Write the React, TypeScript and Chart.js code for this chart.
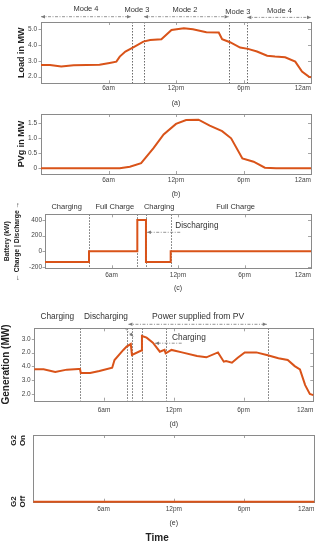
import React, { useEffect, useRef } from "react";
import { Chart, registerables } from "chart.js";

Chart.register(...registerables);

const FONT = '"Liberation Sans", Arial, Helvetica, sans-serif';
const LINE_COLOR = "#D95319";
Chart.defaults.font.family = FONT;
Chart.defaults.color = "#333";

// shared time axis (hours of the day)
const xTickValues = [0, 6, 12, 18, 24];
const xTickLabels = ["", "6am", "12pm", "6pm", "12am"];

// (a) load
const loadHours = [0, 0.8, 1.8, 2.9, 5.2, 6.1, 6.7, 7.0, 7.5, 8.2, 9.1, 9.7, 10.7, 11.6, 12.7, 13.5, 14.7, 15.8, 16.1, 16.8, 17.7, 18.4, 19.2, 20.1, 20.8, 21.7, 22.6, 23.2, 23.8, 24];
const loadMW = [2.74, 2.74, 2.64, 2.72, 2.76, 2.87, 2.95, 3.27, 3.59, 3.86, 4.22, 4.32, 4.37, 4.96, 5.06, 5.0, 4.81, 4.79, 4.37, 4.18, 3.84, 3.76, 3.59, 3.33, 3.27, 3.23, 2.95, 2.32, 2.0, 1.96];
const loadTickValues = [2, 3, 4, 5];
const loadTickLabels = ["2.0", "3.0", "4.0", "5.0"];
const modeBoundaries = [8.12, 9.16, 16.68, 18.34];

// (b) PV generation
const pvHours = [0, 7.0, 7.9, 8.9, 10.0, 10.9, 12.0, 12.9, 14.0, 15.0, 16.1, 16.9, 17.9, 18.9, 19.9, 20.9, 24];
const pvMW = [0, 0, 0.05, 0.17, 0.67, 1.13, 1.48, 1.61, 1.62, 1.42, 1.24, 1.0, 0.33, 0.22, 0.02, 0, 0];
const pvTickValues = [0, 0.5, 1, 1.5];
const pvTickLabels = ["0", "0.5", "1.0", "1.5"];

// (c) battery
const batteryHours = [0, 3.97, 8.33, 9.11, 11.34, 24];
const batteryKW = [-140, 0, 400, -140, 0, 0];
const batteryTickValues = [-200, 0, 200, 400];
const batteryTickLabels = ["-200", "0", "200", "400"];
const batteryEvents = [3.97, 8.33, 9.11, 11.34];

// (d) generation
const genHours = [0, 0.8, 1.8, 2.8, 3.8, 3.93, 4.0, 4.8, 5.6, 6.7, 6.9, 7.66, 7.94, 8.3, 8.4, 9.2, 9.26, 9.66, 10.2, 10.8, 11.2, 11.3, 11.8, 12.7, 14.0, 14.8, 15.8, 16.3, 16.5, 17.0, 17.5, 18.1, 19.1, 20.0, 21.0, 21.8, 22.4, 22.85, 23.3, 23.7, 24];
const genValues = [3.78, 3.78, 3.59, 3.76, 3.8, 3.8, 3.51, 3.51, 3.66, 3.9, 4.46, 5.2, 5.44, 5.63, 4.83, 5.15, 6.22, 6.1, 5.73, 5.07, 5.2, 4.95, 5.2, 5.02, 4.76, 4.66, 5.02, 4.34, 4.39, 4.27, 4.63, 5.02, 5.02, 4.83, 4.59, 4.46, 4.02, 3.78, 2.63, 1.98, 1.9];
const genTickValues = [2, 3, 4, 5, 6];
const genTickLabels = ["2.0", "3.0", "4.0", "2.0", "3.0"];
const genEvents = [3.93, 7.95, 8.38, 9.24, 11.33, 20.13];

// (e) G2 status
const g2Hours = [0, 24];
const g2State = [0, 0];
const g2TickValues = [0, 1];
const g2TickLabels = [["G2", "Off"], ["G2", "On"]];

type TextAnn = { x: number; y?: number; dy?: number; text: string; size: number };
type ArrowAnn = { x1: number; x2: number; y1?: number; dy1?: number; y2?: number; dy2?: number; heads: "both" | "end" };
type YLabel = { value: number; lines: string[]; align: CanvasTextAlign };

type PanelSpec = {
  top: number; height: number;
  padTop: number; padRight: number; yWidth: number; xHeight: number;
  xTickPad: number; caption: string; captionPad: number;
  hours: number[]; values: number[]; stepped?: boolean;
  yMin: number; yMax: number; yTickValues: number[]; yTickLabels: string[] | null;
  yTickPad: number;
  yTitle: string | string[] | null; yTitleSize: number; yTitlePad: number; yTitleLH?: number;
  vlines: number[]; texts: TextAnn[]; arrows: ArrowAnn[];
  customY?: { labels: YLabel[] };
  bottomTitle?: string;
};

const panels: PanelSpec[] = [
  {
    top: 0, height: 108, padTop: 22, padRight: 13, yWidth: 41, xHeight: 24.7,
    xTickPad: 1.1, caption: "(a)", captionPad: 0.8,
    hours: loadHours, values: loadMW,
    yMin: 1.58, yMax: 5.46, yTickValues: loadTickValues, yTickLabels: loadTickLabels, yTickPad: 4,
    yTitle: "Load in MW", yTitleSize: 9, yTitlePad: 16.3,
    vlines: modeBoundaries,
    texts: [
      { x: 4.0, dy: -12.7, text: "Mode 4", size: 7.5 },
      { x: 8.53, dy: -12, text: "Mode 3", size: 7.5 },
      { x: 12.8, dy: -11.7, text: "Mode 2", size: 7.5 },
      { x: 17.5, dy: -10, text: "Mode 3", size: 7.5 },
      { x: 21.2, dy: -10.7, text: "Mode 4", size: 7.5 },
    ],
    arrows: [
      { x1: 0, x2: 8.0, dy1: -5.3, dy2: -5.3, heads: "both" },
      { x1: 9.16, x2: 16.68, dy1: -5.3, dy2: -5.3, heads: "both" },
      { x1: 18.34, x2: 24, dy1: -4.6, dy2: -4.6, heads: "both" },
    ],
  },
  {
    top: 104, height: 96, padTop: 10, padRight: 13, yWidth: 41, xHeight: 26,
    xTickPad: 2.8, caption: "(b)", captionPad: 1.8,
    hours: pvHours, values: pvMW,
    yMin: -0.19, yMax: 1.81, yTickValues: pvTickValues, yTickLabels: pvTickLabels, yTickPad: 4,
    yTitle: "PVg in MW", yTitleSize: 9, yTitlePad: 16.3,
    vlines: [], texts: [], arrows: [],
  },
  {
    top: 200, height: 96, padTop: 14.3, padRight: 13, yWidth: 45, xHeight: 27.7,
    xTickPad: 2.6, caption: "(c)", captionPad: 3.8,
    hours: batteryHours, values: batteryKW, stepped: true,
    yMin: -220, yMax: 473, yTickValues: batteryTickValues, yTickLabels: batteryTickLabels, yTickPad: 3,
    yTitle: ["Battery (kW)", "\u2190 Charge | Discharge \u2192"], yTitleSize: 6.8, yTitlePad: 2.4, yTitleLH: 1.4,
    vlines: batteryEvents,
    texts: [
      { x: 1.95, dy: -7, text: "Charging", size: 7.5 },
      { x: 6.3, dy: -7, text: "Full Charge", size: 7.5 },
      { x: 10.3, dy: -7, text: "Charging", size: 7.5 },
      { x: 17.2, dy: -7, text: "Full Charge", size: 7.5 },
      { x: 13.7, y: 327, text: "Discharging", size: 8.2 },
    ],
    arrows: [{ x1: 12.2, x2: 9.2, y1: 242, y2: 242, heads: "end" }],
  },
  {
    top: 296, height: 134, padTop: 32.3, padRight: 10.7, yWidth: 34.3, xHeight: 29.3,
    xTickPad: 5.4, caption: "(d)", captionPad: 1.8,
    hours: genHours, values: genValues,
    yMin: 1.49, yMax: 6.78, yTickValues: genTickValues, yTickLabels: genTickLabels, yTickPad: 3.6,
    yTitle: "Generation (MW)", yTitleSize: 10, yTitlePad: 0,
    vlines: genEvents,
    texts: [
      { x: 1.98, dy: -11.6, text: "Charging", size: 8.3 },
      { x: 6.17, dy: -11.6, text: "Discharging", size: 8.3 },
      { x: 14.1, dy: -11.6, text: "Power supplied from PV", size: 8.6 },
      { x: 13.3, y: 6.12, text: "Charging", size: 8.3 },
    ],
    arrows: [
      { x1: 8.1, x2: 20.0, dy1: -4, dy2: -4, heads: "both" },
      { x1: 12.68, x2: 10.38, y1: 5.69, y2: 5.69, heads: "end" },
      { x1: 7.8, x2: 8.52, dy1: 0, y2: 6.17, heads: "end" },
    ],
  },
  {
    top: 430, height: 120, padTop: 5, padRight: 9.7, yWidth: 33.3, xHeight: 30.6,
    xTickPad: 3.7, caption: "(e)", captionPad: 4.8,
    hours: g2Hours, values: g2State,
    yMin: 0, yMax: 1, yTickValues: g2TickValues, yTickLabels: null, yTickPad: 0,
    yTitle: null, yTitleSize: 9, yTitlePad: 0,
    vlines: [], texts: [], arrows: [],
    customY: {
      labels: [
        { value: g2TickValues[0], lines: g2TickLabels[0], align: "center" },
        { value: g2TickValues[1], lines: g2TickLabels[1], align: "right" },
      ],
    },
    bottomTitle: "Time",
  },
];

function makeDecor(spec: PanelSpec) {
  const seg = (ctx: CanvasRenderingContext2D, x1: number, y1: number, x2: number, y2: number) => {
    ctx.beginPath(); ctx.moveTo(x1, y1); ctx.lineTo(x2, y2); ctx.stroke();
  };
  const head = (ctx: CanvasRenderingContext2D, x: number, y: number, ang: number) => {
    const L = 4, W = 1.8;
    const c = Math.cos(ang), s = Math.sin(ang);
    ctx.beginPath();
    ctx.moveTo(x, y);
    ctx.lineTo(x - L * c + W * s, y - L * s - W * c);
    ctx.lineTo(x - L * c - W * s, y - L * s + W * c);
    ctx.closePath();
    ctx.fill();
  };
  return {
    id: "decor",
    beforeDatasetsDraw(chart: any) {
      const { ctx, chartArea: a, scales } = chart;
      const xs = scales.x, ys = scales.y;
      ctx.save();
      ctx.strokeStyle = "#5a5a5a"; ctx.lineWidth = 0.9; ctx.setLineDash([1.5, 1.5]);
      for (const h of spec.vlines) {
        const px = Math.round(xs.getPixelForValue(h)) + 0.5;
        seg(ctx, px, a.top, px, a.bottom);
      }
      ctx.setLineDash([]);
      ctx.strokeStyle = "#a5a5a5"; ctx.lineWidth = 1;
      for (const t of xs.ticks) {
        if (t.value <= xs.min || t.value >= xs.max) continue;
        const px = Math.round(xs.getPixelForValue(t.value)) + 0.5;
        seg(ctx, px, a.bottom, px, a.bottom - 3);
        seg(ctx, px, a.top, px, a.top + 3);
      }
      if (!spec.customY) {
        for (const t of ys.ticks) {
          if (t.value <= ys.min || t.value >= ys.max) continue;
          const py = Math.round(ys.getPixelForValue(t.value)) + 0.5;
          seg(ctx, a.left - 2.5, py, a.left, py);
          seg(ctx, a.right, py, a.right - 3, py);
        }
      }
      ctx.strokeStyle = "#8a8a8a";
      const l = Math.round(a.left) + 0.5, tp = Math.round(a.top) + 0.5;
      ctx.strokeRect(l, tp, Math.round(a.right) - Math.round(a.left), Math.round(a.bottom) - Math.round(a.top));
      ctx.restore();
    },
    afterDatasetsDraw(chart: any) {
      const { ctx, chartArea: a, scales } = chart;
      const xs = scales.x, ys = scales.y;
      const py = (y?: number, dy?: number) => (dy !== undefined ? a.top + dy : ys.getPixelForValue(y as number));
      ctx.save();
      ctx.strokeStyle = "#7a7a7a"; ctx.fillStyle = "#7a7a7a"; ctx.lineWidth = 0.8;
      for (const ar of spec.arrows) {
        const x1 = xs.getPixelForValue(ar.x1), x2 = xs.getPixelForValue(ar.x2);
        const y1 = py(ar.y1, ar.dy1), y2 = py(ar.y2, ar.dy2);
        ctx.setLineDash([3, 1.5, 1, 1.5]);
        seg(ctx, x1, y1, x2, y2);
        ctx.setLineDash([]);
        head(ctx, x2, y2, Math.atan2(y2 - y1, x2 - x1));
        if (ar.heads === "both") head(ctx, x1, y1, Math.atan2(y1 - y2, x1 - x2));
      }
      ctx.fillStyle = "#333"; ctx.textAlign = "center"; ctx.textBaseline = "middle";
      for (const t of spec.texts) {
        ctx.font = `${t.size}px ${FONT}`;
        ctx.fillText(t.text, xs.getPixelForValue(t.x), py(t.y, t.dy));
      }
      if (spec.customY) {
        ctx.font = `bold 8px ${FONT}`;
        ctx.fillStyle = "#222";
        for (const lab of spec.customY.labels) {
          const yy = ys.getPixelForValue(lab.value);
          lab.lines.forEach((line, i) => {
            ctx.save();
            ctx.translate(a.left - 20 + i * 9, yy);
            ctx.rotate(-Math.PI / 2);
            ctx.textAlign = lab.align;
            ctx.fillText(line, 0, 0);
            ctx.restore();
          });
        }
      }
      ctx.restore();
    },
  };
}

function buildConfig(spec: PanelSpec): any {
  const data = spec.hours.map((h, i) => ({ x: h, y: spec.values[i] }));
  return {
    type: "line",
    data: {
      datasets: [{
        data, borderColor: LINE_COLOR, borderWidth: 2, pointRadius: 0, tension: 0,
        stepped: spec.stepped ? true : false, fill: false, clip: false,
      }],
    },
    options: {
      animation: false,
      responsive: false,
      events: [],
      layout: { padding: { top: spec.padTop, right: spec.padRight, left: 0, bottom: 0 } },
      plugins: {
        legend: { display: false },
        tooltip: { enabled: false },
        title: spec.bottomTitle
          ? { display: true, position: "bottom", text: spec.bottomTitle, color: "#222", font: { size: 10, weight: "bold" }, padding: { top: 0, bottom: 5.7 } }
          : { display: false },
      },
      scales: {
        x: {
          type: "linear", min: 0, max: 24,
          afterBuildTicks: (s: any) => { s.ticks = xTickValues.map((v) => ({ value: v })); },
          afterFit: (s: any) => { s.height = spec.xHeight; },
          grid: { display: false, drawTicks: false, tickLength: 0 }, border: { display: false },
          ticks: {
            padding: spec.xTickPad, font: { size: 6.5 }, color: "#444", align: "inner",
            maxRotation: 0, minRotation: 0, autoSkip: false,
            callback: (_v: any, i: number) => xTickLabels[i],
          },
          title: { display: true, text: spec.caption, color: "#333", font: { size: 7 }, padding: { top: 0, bottom: spec.captionPad } },
        },
        y: {
          type: "linear", min: spec.yMin, max: spec.yMax,
          afterBuildTicks: (s: any) => { s.ticks = spec.yTickValues.map((v) => ({ value: v })); },
          afterFit: (s: any) => { s.width = spec.yWidth; },
          grid: { display: false, drawTicks: false, tickLength: 0 }, border: { display: false },
          ticks: {
            display: spec.yTickLabels !== null,
            padding: spec.yTickPad, font: { size: 6.5 }, color: "#444",
            callback: (_v: any, i: number) => (spec.yTickLabels ? spec.yTickLabels[i] : ""),
          },
          title: spec.yTitle
            ? {
                display: true, text: spec.yTitle, color: "#222",
                font: { size: spec.yTitleSize, weight: "bold", lineHeight: spec.yTitleLH || 1.2 },
                padding: { top: spec.yTitlePad, bottom: 0 },
              }
            : { display: false },
        },
      },
    },
    plugins: [makeDecor(spec)],
  };
}

function Panel({ spec }: { spec: PanelSpec }) {
  const ref = useRef<HTMLCanvasElement>(null);
  useEffect(() => {
    if (!ref.current) return;
    const chart = new Chart(ref.current, buildConfig(spec));
    return () => chart.destroy();
  }, [spec]);
  return (
    <canvas
      ref={ref}
      width={324}
      height={spec.height}
      style={{ position: "absolute", left: 0, top: spec.top, width: 324, height: spec.height, display: "block" }}
    />
  );
}

export default function App() {
  return (
    <div style={{ position: "absolute", left: 0, top: 0, width: 324, height: 550, background: "#fff", overflow: "hidden" }}>
      {panels.map((p, i) => (
        <Panel key={i} spec={p} />
      ))}
    </div>
  );
}
